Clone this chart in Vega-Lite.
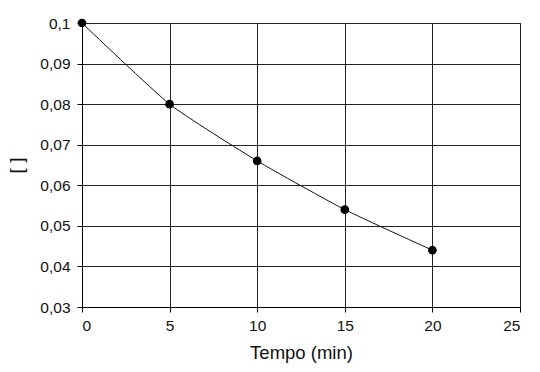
{
  "$schema": "https://vega.github.io/schema/vega-lite/v6.json",
  "autosize": "none",
  "width": 438,
  "height": 284,
  "padding": {"left": 82, "top": 23, "right": 20, "bottom": 65},
  "background": "white",
  "config": {
    "font": "Liberation Sans",
    "view": {"stroke": "#000", "strokeWidth": 1},
    "axis": {
      "domainColor": "#000",
      "tickColor": "#000",
      "gridColor": "#222",
      "gridOpacity": 1,
      "gridWidth": 1,
      "labelColor": "#111",
      "titleColor": "#111",
      "labelFont": "Liberation Sans",
      "titleFont": "Liberation Sans",
      "labelFontSize": 15.5,
      "titleFontSize": 18.5,
      "titleFontWeight": "normal",
      "tickSize": 5
    }
  },
  "data": {
    "values": [
      {"t": 0, "c": 0.1},
      {"t": 5, "c": 0.08},
      {"t": 10, "c": 0.066},
      {"t": 15, "c": 0.054},
      {"t": 20, "c": 0.044}
    ]
  },
  "encoding": {
    "x": {
      "field": "t",
      "type": "quantitative",
      "scale": {"domain": [0, 25], "nice": false},
      "axis": {
        "values": [0, 5, 10, 15, 20, 25],
        "title": "Tempo (min)",
        "labelPadding": 6,
        "titlePadding": 10
      }
    },
    "y": {
      "field": "c",
      "type": "quantitative",
      "scale": {"domain": [0.03, 0.1], "nice": false, "zero": false},
      "axis": {
        "values": [0.03, 0.04, 0.05, 0.06, 0.07, 0.08, 0.09, 0.1],
        "labelExpr": "replace(format(datum.value, '.2~f'), '.', ',')",
        "title": "[ ]",
        "titleFontSize": 19,
        "titlePadding": 13,
        "labelPadding": 7
      }
    }
  },
  "layer": [
    {
      "mark": {"type": "line", "interpolate": "cardinal", "tension": 0.5, "color": "#111", "strokeWidth": 1}
    },
    {
      "mark": {"type": "point", "filled": true, "color": "#000", "opacity": 1, "size": 75}
    }
  ]
}
